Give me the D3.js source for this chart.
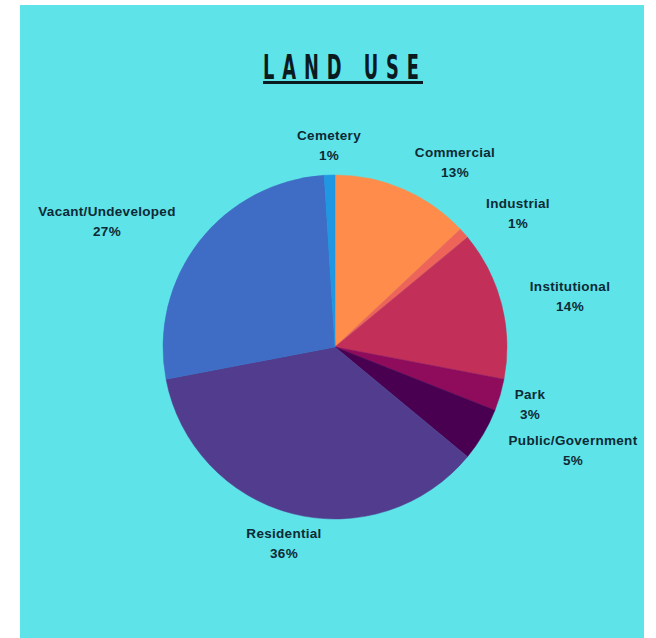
<!DOCTYPE html>
<html>
<head>
<meta charset="utf-8">
<script src="https://cdn.jsdelivr.net/npm/d3@7"></script>
<style>
  html, body { margin: 0; padding: 0; background: #fff; }
  svg { display: block; }
</style>
</head>
<body>
<div id="chart"></div>
<script>
// data, clockwise from 12 o'clock
const categories = ['Commercial', 'Industrial', 'Institutional', 'Park',
  'Public/Government', 'Residential', 'Vacant/Undeveloped', 'Cemetery']
const shares = [13, 1, 14, 3, 5, 36, 27, 1]
const colors = ['#ff8c4b', '#ef6459', '#c2305a', '#8f0c5c',
  '#4a0050', '#523c8e', '#3f6dc5', '#1f97e2']
// label anchor (centre of the two-line label, in page pixels)
const labelPos = [[455, 157], [518, 208], [570, 291], [530, 399],
  [573, 445], [284, 538], [107, 216], [329, 140]]

const W = 656, H = 638
const cx = 335, cy = 347, r = 172

const svg = d3.select('#chart').append('svg')
  .attr('width', W).attr('height', H)

// cyan panel
svg.append('rect')
  .attr('x', 20).attr('y', 5)
  .attr('width', 624).attr('height', H - 5)
  .attr('fill', '#5ee3e8')

// title: tall, condensed and widely spaced
const sx = 0.6
const title = svg.append('g')
title.append('text')
  .attr('transform', `translate(263,79) scale(${sx},1)`)
  .attr('textLength', 156 / sx)
  .attr('lengthAdjust', 'spacing')
  .style('font-family', '"Liberation Sans Narrow", "DejaVu Sans Condensed", sans-serif')
  .style('font-weight', 'bold')
  .style('font-size', '33px')
  .attr('fill', '#0b1a1f')
  .text('LAND USE')
title.append('rect')
  .attr('x', 263).attr('y', 81)
  .attr('width', 160).attr('height', 3)
  .attr('fill', '#0b1a1f')

// pie
const data = categories.map((c, i) => ({ name: c, value: shares[i], i }))
const pie = d3.pie().sort(null).value(d => d.value)
const arc = d3.arc().innerRadius(0).outerRadius(r)

const g = svg.append('g').attr('transform', `translate(${cx},${cy})`)
g.selectAll('path')
  .data(pie(data))
  .enter()
  .append('path')
  .attr('d', arc)
  .attr('fill', d => colors[d.data.i])
  .attr('stroke', d => colors[d.data.i])
  .attr('stroke-width', 0.5)

// labels
const labels = svg.append('g')
  .style('font-family', '"Liberation Sans", Arimo, sans-serif')
  .style('font-weight', 'bold')
  .style('font-size', '13.5px')
  .style('letter-spacing', '0.3px')
  .attr('fill', '#0e2a35')
  .attr('text-anchor', 'middle')

data.forEach(d => {
  const [x, y] = labelPos[d.i]
  const t = labels.append('text').attr('x', x).attr('y', y)
  t.append('tspan').attr('x', x).text(d.name)
  t.append('tspan').attr('x', x).attr('dy', 19.5).text(d.value + '%')
})
</script>
</body>
</html>
